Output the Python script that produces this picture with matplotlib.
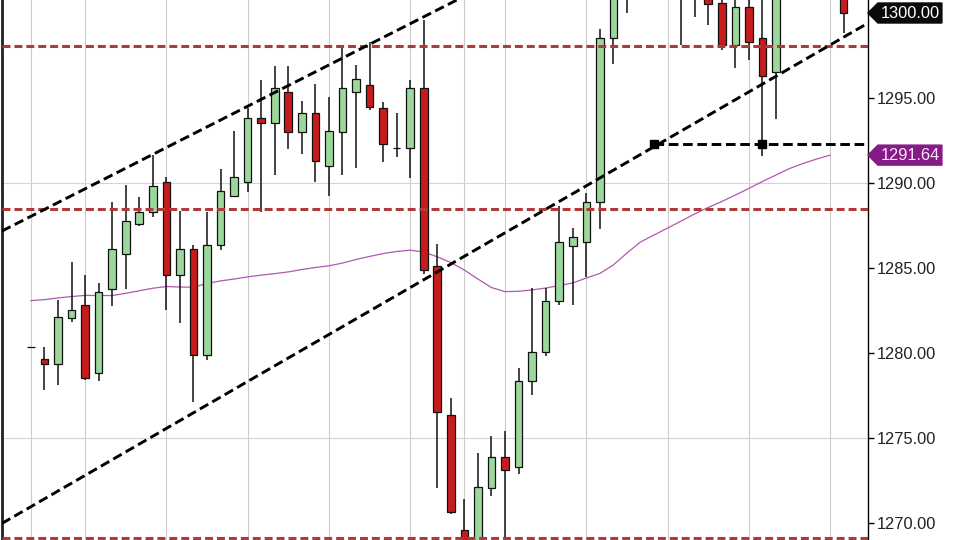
import matplotlib
matplotlib.use("Agg")
import matplotlib.pyplot as plt
from matplotlib.patches import Polygon

plt.rcParams['font.family'] = ['Liberation Sans', 'DejaVu Sans']

# candles, one per bar index (0..60)
opens = [1280.35, 1279.65, 1279.35, 1282.06, 1282.82, 1278.82, 1283.76, 1285.82, 1287.59, 1288.29,
         1290.06, 1284.59, 1286.12, 1279.88, 1286.35, 1289.24, 1290.06, 1293.82, 1293.53, 1295.35,
         1293.00, 1294.12, 1291.00, 1293.00, 1295.35, 1295.76, 1294.41, 1292.06, 1292.06, 1295.59,
         1285.12, 1276.35, 1269.59, 1268.53, 1272.06, 1273.88, 1273.29, 1278.35, 1280.06, 1283.06,
         1286.29, 1286.53, 1288.88, 1298.53, 1301.90, 1302.60, 1301.90, 1302.40, 1302.80, 1301.50,
         1301.20, 1300.59, 1298.12, 1300.35, 1298.53, 1296.53, 1301.50, 1302.30, 1301.80, 1301.60,
         1301.40]
highs = [1280.35, 1280.35, 1283.12, 1285.35, 1284.59, 1284.12, 1288.88, 1289.88, 1289.18, 1291.65,
         1290.35, 1288.35, 1286.35, 1288.29, 1290.82, 1293.06, 1294.41, 1296.06, 1296.88, 1296.88,
         1294.82, 1295.82, 1295.06, 1298.06, 1296.94, 1298.29, 1294.76, 1294.12, 1296.06, 1299.59,
         1286.41, 1277.35, 1271.41, 1274.12, 1275.12, 1275.41, 1279.12, 1283.82, 1283.82, 1288.65,
         1287.35, 1289.41, 1299.06, 1302.20, 1303.40, 1303.60, 1302.70, 1303.50, 1303.60, 1302.40,
         1301.80, 1301.20, 1300.90, 1300.90, 1300.90, 1302.30, 1302.80, 1303.10, 1302.60, 1302.20,
         1301.90]
lows = [1280.35, 1277.82, 1278.12, 1281.82, 1278.41, 1278.35, 1282.76, 1283.76, 1287.47, 1288.00,
        1282.53, 1281.76, 1277.12, 1279.59, 1286.06, 1289.20, 1289.47, 1288.29, 1290.47, 1292.00,
        1291.71, 1290.06, 1289.24, 1290.47, 1290.88, 1294.29, 1291.24, 1291.53, 1290.29, 1284.65,
        1272.06, 1270.53, 1268.29, 1268.06, 1271.59, 1268.53, 1272.88, 1277.53, 1279.82, 1282.82,
        1282.82, 1284.47, 1287.29, 1297.00, 1300.00, 1301.40, 1301.20, 1301.60, 1298.12, 1299.76,
        1299.29, 1297.82, 1296.76, 1297.24, 1291.59, 1293.76, 1300.90, 1301.30, 1301.00, 1301.00,
        1298.82]
closes = [1280.35, 1279.35, 1282.12, 1282.53, 1278.53, 1283.59, 1286.12, 1287.76, 1288.29, 1289.82,
          1284.59, 1286.12, 1279.88, 1286.35, 1289.53, 1290.35, 1293.82, 1293.53, 1295.59, 1293.00,
          1294.12, 1291.29, 1293.06, 1295.59, 1296.12, 1294.47, 1292.29, 1292.06, 1295.59, 1284.88,
          1276.53, 1270.65, 1268.76, 1272.12, 1273.88, 1273.12, 1278.35, 1280.06, 1283.06, 1286.53,
          1286.82, 1288.88, 1298.53, 1301.60, 1302.80, 1301.90, 1302.40, 1303.00, 1301.50, 1301.90,
          1300.53, 1298.12, 1300.35, 1298.29, 1296.29, 1301.50, 1302.30, 1301.80, 1301.60, 1301.40,
          1300.00]

# moving average, bars 0..59
ma = [1283.08, 1283.14, 1283.24, 1283.32, 1283.39, 1283.38, 1283.38, 1283.51, 1283.66, 1283.81,
      1283.91, 1283.88, 1283.87, 1284.09, 1284.24, 1284.35, 1284.48, 1284.58, 1284.67, 1284.77,
      1284.91, 1285.03, 1285.13, 1285.29, 1285.50, 1285.68, 1285.85, 1285.97, 1286.05, 1285.94,
      1285.66, 1285.32, 1284.88, 1284.35, 1283.85, 1283.61, 1283.63, 1283.71, 1283.82, 1283.97,
      1284.12, 1284.41, 1284.68, 1285.18, 1285.88, 1286.53, 1286.94, 1287.35, 1287.76, 1288.18,
      1288.56, 1288.91, 1289.29, 1289.68, 1290.09, 1290.47, 1290.85, 1291.15, 1291.41, 1291.64]

levels = [1298.08, 1288.47, 1269.12]
upper_channel = [(0, 1288.04), (30, 1300.18)]
lower_channel = [(0, 1270.96), (60, 1298.58)]
pivot_level = 1292.29
pivot_bars = [46, 54]
grid_bars = [0, 4, 10, 16, 22, 28, 32, 35, 41, 47, 53, 59]
grid_prices = [1275, 1290]
y_ticks = [1270, 1275, 1280, 1285, 1290, 1295]
last_price = 1300.00
ma_last = 1291.64

GREEN = '#9cd89c'
RED = '#c81c1c'

fig = plt.figure(figsize=(9.6, 5.4), dpi=100)
ax = fig.add_axes([0.002, 0.0, 866 / 960, 1.0])
ax.set_xlim(-2.14, 61.79)
ax.set_ylim(1269.0, 1300.765)

for b in grid_bars:
    ax.axvline(b, color='#cccccc', lw=0.8, zorder=0)
for p in grid_prices:
    ax.axhline(p, color='#d4d4d4', lw=0.8, zorder=0)

idx = list(range(len(opens)))
ax.plot(range(len(ma)), ma, color='#b058b0', lw=0.9, zorder=1)

ax.vlines(idx, lows, highs, color='#111111', lw=1.1, zorder=2)
bottoms = [min(o, c) for o, c in zip(opens, closes)]
heights = [abs(c - o) for o, c in zip(opens, closes)]
colors = [GREEN if c >= o else RED for o, c in zip(opens, closes)]
ax.bar(idx, heights, bottom=bottoms, width=0.56, color=colors,
       edgecolor='#111111', linewidth=0.9, zorder=3)

for lv in levels:
    ax.axhline(lv, color='#b03a3a', lw=2.2, dashes=(2.6, 1.3), zorder=4)

ax.axline(upper_channel[0], upper_channel[1], color='black', lw=2.1, dashes=(3.3, 1.6), zorder=5)
ax.axline(lower_channel[0], lower_channel[1], color='black', lw=2.1, dashes=(3.3, 1.6), zorder=5)
ax.plot([pivot_bars[0], 70], [pivot_level, pivot_level], color='black', lw=2.1,
        dashes=(3.3, 1.6), zorder=5)
ax.plot(pivot_bars, [pivot_level] * len(pivot_bars), 's', color='black', ms=6, zorder=6)

# right axis
ax.yaxis.tick_right()
ax.set_yticks(y_ticks)
ax.set_yticklabels(['%.2f' % t for t in y_ticks])
ax.tick_params(axis='y', direction='out', length=4.5, width=1, colors='black',
               labelsize=11.8, pad=2, labelcolor='#222222')
ax.set_xticks([])
for s in ['top', 'bottom']:
    ax.spines[s].set_visible(False)
ax.spines['right'].set_color('black')
ax.spines['right'].set_linewidth(1.0)
ax.spines['left'].set_color('#202020')
ax.spines['left'].set_linewidth(2.0)

tr = ax.get_yaxis_transform()
px = 1 / 866
hh = 10 / 17


def tag(price, text, face, tc):
    pts = [(1.0, price), (1 + 10 * px, price + hh), (1 + 74 * px, price + hh),
           (1 + 74 * px, price - hh), (1 + 10 * px, price - hh)]
    ax.add_patch(Polygon(pts, closed=True, transform=tr, facecolor=face,
                         edgecolor=face, clip_on=False, zorder=7))
    ax.text(1 + 42 * px, price, text, transform=tr, ha='center', va='center',
            color=tc, fontsize=11.8, clip_on=False, zorder=8)


tag(last_price, '%.2f' % last_price, '#0a0a0a', 'white')
tag(ma_last, '%.2f' % ma_last, '#861a86', '#fbe6fb')

fig.savefig('out.png', dpi=100)
